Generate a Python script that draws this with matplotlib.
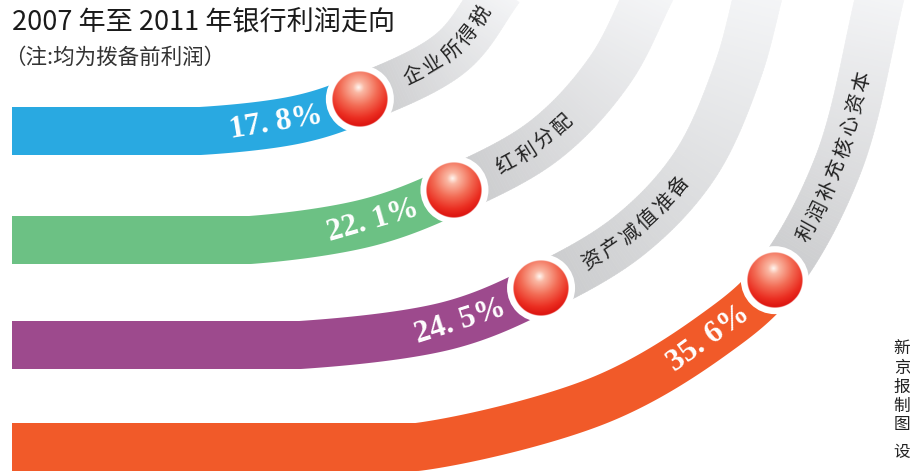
import numpy as np
import matplotlib
matplotlib.use("Agg")
import matplotlib.pyplot as plt
from matplotlib.patches import Polygon, Circle

plt.rcParams['font.family'] = ['Noto Sans CJK SC', 'DejaVu Sans']

# Chart data
TITLE = "2007 年至 2011 年银行利润走向"
NOTE = "（注:均为拨备前利润）"
CATEGORIES = ["企业所得税", "红利分配", "资产减值准备", "利润补充核心资本"]
SHARES = [17.8, 22.1, 24.5, 35.6]
COLORS = ["#29a9e1", "#6cc184", "#9d4a8d", "#f15a29"]
CREDIT = "新京报制图设"

# Layout: centre line of every band (pixels, y downwards), ball sits at BALL_AT
BAND_PATHS = [
	[(200, 131), (300, 119), (360, 99), (452, 52), (500, -12)],
	[(250, 240), (370, 222), (454, 190), (545, 140), (610, 70), (652, -12)],
	[(300, 345), (450, 325), (541, 288), (630, 235), (695, 165), (738, 70), (760, -12)],
	[(417, 447), (600, 400), (713, 335), (775, 280), (838, 165), (882, -12)],
]
BALL_AT = [2, 2, 2, 3]
BAND_W = 48
BALL_R = 28
W, H = 910, 474


# Centripetal Catmull-Rom through the control points
def catmull_rom(P, n=60):
	P = np.asarray(P, float)
	out = []
	for i in range(len(P) - 3):
		p0, p1, p2, p3 = P[i:i + 4]
		t0 = 0.0
		t1 = t0 + np.linalg.norm(p1 - p0) ** 0.5
		t2 = t1 + np.linalg.norm(p2 - p1) ** 0.5
		t3 = t2 + np.linalg.norm(p3 - p2) ** 0.5
		t = np.linspace(t1, t2, n)[:, None]
		A1 = (t1 - t) / (t1 - t0) * p0 + (t - t0) / (t1 - t0) * p1
		A2 = (t2 - t) / (t2 - t1) * p1 + (t - t1) / (t2 - t1) * p2
		A3 = (t3 - t) / (t3 - t2) * p2 + (t - t2) / (t3 - t2) * p3
		B1 = (t2 - t) / (t2 - t0) * A1 + (t - t0) / (t2 - t0) * A2
		B2 = (t3 - t) / (t3 - t1) * A2 + (t - t1) / (t3 - t1) * A3
		out.append((t2 - t) / (t2 - t1) * B1 + (t - t1) / (t2 - t1) * B2)
	return np.vstack(out)


# Straight run from the left edge, then the curve, resampled every pixel
def band_line(pts):
	x0, y0 = pts[0]
	last, prev = np.array(pts[-1]), np.array(pts[-2])
	ctrl = [(x0 - 60, y0)] + list(pts) + [tuple(2 * last - prev)]
	curve = catmull_rom(ctrl)
	straight = np.column_stack([np.linspace(12, x0, 80), np.full(80, y0)])
	line = np.vstack([straight, curve])
	d = np.hypot(*np.diff(line, axis=0).T)
	keep = np.concatenate([[True], d > 1e-9])
	line = line[keep]
	s = np.concatenate([[0], np.cumsum(d[d > 1e-9])])
	su = np.arange(0, s[-1], 1.0)
	x = np.interp(su, s, line[:, 0])
	y = np.interp(su, s, line[:, 1])
	tx, ty = np.gradient(x), np.gradient(y)
	nrm = np.hypot(tx, ty)
	return x, y, tx / nrm, ty / nrm


def edges(x, y, tx, ty, a, b):
	nx, ny = -ty[a:b], tx[a:b]
	up = np.column_stack([x[a:b] + BAND_W / 2 * nx, y[a:b] + BAND_W / 2 * ny])
	lo = np.column_stack([x[a:b] - BAND_W / 2 * nx, y[a:b] - BAND_W / 2 * ny])
	return np.vstack([up, lo[::-1]])


# Red glossy ball as a small RGBA picture
def ball_image(n=120):
	v, u = np.mgrid[-1:1:n * 1j, -1:1:n * 1j]
	r = np.hypot(u, v)
	d = np.clip(np.hypot(u + 0.05, v + 0.42) / 1.35, 0, 1)
	stops = np.array([0.0, 0.15, 0.5, 0.82, 1.0])
	cols = np.array([[1.0, 0.97, 0.95], [0.98, 0.72, 0.64], [0.95, 0.42, 0.33],
					 [0.92, 0.18, 0.13], [0.87, 0.09, 0.07]])
	img = np.zeros((n, n, 4))
	for c in range(3):
		img[..., c] = np.interp(d, stops, cols[:, c])
	img[..., 3] = np.clip((1 - r) * n / 2, 0, 1)
	return img


fig = plt.figure(figsize=(W / 100, H / 100), dpi=100)
ax = fig.add_axes([0, 0, 1, 1])
ax.set_xlim(0, W)
ax.set_ylim(H, 0)
ax.axis('off')

BALL = ball_image()

for i, (name, share, color) in enumerate(zip(CATEGORIES, SHARES, COLORS)):
	x, y, tx, ty = band_line(BAND_PATHS[i])
	bx, by = BAND_PATHS[i][BALL_AT[i]]
	kb = int(np.argmin(np.hypot(x - bx, y - by)))
	n = len(x)

	# coloured part up to the ball
	ax.add_patch(Polygon(edges(x, y, tx, ty, 0, kb + 1), closed=True, fc=color, ec='none', zorder=2))

	# grey part fading towards the top
	step = 3
	for k in range(kb, n - 1, step):
		f = (k - kb) / max(n - kb, 1)
		g = 0.79 + 0.17 * f
		ax.add_patch(Polygon(edges(x, y, tx, ty, k, min(k + step + 1, n)), closed=True,
							 fc=(g, g + 0.003, g + 0.01), ec=(g, g + 0.003, g + 0.01), lw=0.4, zorder=1))

	# ball with white ring
	cx, cy = x[kb], y[kb]
	ax.add_patch(Circle((cx, cy), BALL_R + 6, fc='white', ec='none', zorder=3))
	ax.imshow(BALL, extent=(cx - BALL_R, cx + BALL_R, cy + BALL_R, cy - BALL_R),
			  origin='upper', interpolation='bilinear', zorder=4)

	# percentage, right aligned before the ball
	kp = max(kb - 40, 0)
	kc = max(kb - 82, 0)
	ang = np.degrees(np.arctan2(-ty[kc], tx[kc]))
	ax.text(x[kp], y[kp] + 2, f"{share:.1f}%".replace('.', '. '), rotation=ang, rotation_mode='anchor',
			ha='right', va='center', color='white', fontsize=22.5, fontweight='bold',
			family=['Liberation Serif', 'DejaVu Serif'], zorder=5)

	# category name, one glyph at a time along the grey band
	for j, ch in enumerate(name):
		k = min(kb + 58 + 23 * j, n - 1)
		a = np.degrees(np.arctan2(-ty[k], tx[k]))
		ax.text(x[k], y[k], ch, rotation=a, rotation_mode='anchor', ha='center', va='center',
				fontsize=14.5, color='#222222', zorder=5)

# Title and note
ax.text(12, 22, TITLE, fontsize=19.5, color='#1a1a1a', ha='left', va='center', zorder=6)
ax.text(4, 58, NOTE, fontsize=15.5, color='#333333', ha='left', va='center', zorder=6)

# Vertical credit at the right edge (cropped in the original layout)
for j, ch in enumerate(CREDIT):
	ax.text(902, 349 + 19 * j + (8 if j == 5 else 0), ch, fontsize=12, color='#222222',
			ha='center', va='center', zorder=6)

fig.savefig('out.png', dpi=100)
